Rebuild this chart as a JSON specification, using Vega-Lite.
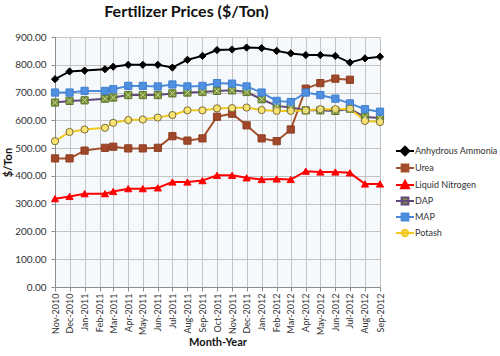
{
  "$schema": "https://vega.github.io/schema/vega-lite/v6.json",
  "width": 325,
  "height": 250,
  "autosize": {"type": "none"},
  "padding": {"left": 55, "top": 37, "right": 120, "bottom": 69},
  "background": "white",
  "config": {
    "font": "Lato",
    "view": {"fill": "#f6f9fc", "stroke": null},
    "axis": {"labelFont": "Lato", "titleFont": "Lato", "labelColor": "#333333", "titleColor": "#111111", "gridColor": "#c4c4c4", "gridWidth": 1, "domainColor": "#8c8c8c", "tickColor": "#8c8c8c", "tickSize": 4},
    "legend": {
      "title": null, "orient": "none", "legendX": 345, "legendY": 109,
      "symbolSize": 64, "symbolStrokeWidth": 2, "labelOffset": 5, "rowPadding": 0,
      "labelFont": "Lato", "labelFontSize": 9, "labelColor": "#333333"
    }
  },
  "title": {"text": "Fertilizer Prices ($/Ton)", "font": "Lato", "fontSize": 16, "fontWeight": "bold", "color": "#111111", "anchor": "middle", "dx": -31, "offset": 12},
  "datasets": {
    "prices": [
      {"date": "2010-11-01", "series": "Anhydrous Ammonia", "value": 748},
      {"date": "2010-12-01", "series": "Anhydrous Ammonia", "value": 776},
      {"date": "2011-01-01", "series": "Anhydrous Ammonia", "value": 779},
      {"date": "2011-02-12", "series": "Anhydrous Ammonia", "value": 784},
      {"date": "2011-03-01", "series": "Anhydrous Ammonia", "value": 793},
      {"date": "2011-04-01", "series": "Anhydrous Ammonia", "value": 800},
      {"date": "2011-05-01", "series": "Anhydrous Ammonia", "value": 800},
      {"date": "2011-06-01", "series": "Anhydrous Ammonia", "value": 800},
      {"date": "2011-07-01", "series": "Anhydrous Ammonia", "value": 790},
      {"date": "2011-08-01", "series": "Anhydrous Ammonia", "value": 818},
      {"date": "2011-09-01", "series": "Anhydrous Ammonia", "value": 832},
      {"date": "2011-10-01", "series": "Anhydrous Ammonia", "value": 853},
      {"date": "2011-11-01", "series": "Anhydrous Ammonia", "value": 855},
      {"date": "2011-12-01", "series": "Anhydrous Ammonia", "value": 862},
      {"date": "2012-01-01", "series": "Anhydrous Ammonia", "value": 860},
      {"date": "2012-02-01", "series": "Anhydrous Ammonia", "value": 850},
      {"date": "2012-03-01", "series": "Anhydrous Ammonia", "value": 841},
      {"date": "2012-04-01", "series": "Anhydrous Ammonia", "value": 835},
      {"date": "2012-05-01", "series": "Anhydrous Ammonia", "value": 835},
      {"date": "2012-06-01", "series": "Anhydrous Ammonia", "value": 832},
      {"date": "2012-07-01", "series": "Anhydrous Ammonia", "value": 808},
      {"date": "2012-08-01", "series": "Anhydrous Ammonia", "value": 823},
      {"date": "2012-09-01", "series": "Anhydrous Ammonia", "value": 829},
      {"date": "2010-11-01", "series": "Urea", "value": 463},
      {"date": "2010-12-01", "series": "Urea", "value": 463},
      {"date": "2011-01-01", "series": "Urea", "value": 491},
      {"date": "2011-02-12", "series": "Urea", "value": 501},
      {"date": "2011-03-01", "series": "Urea", "value": 505},
      {"date": "2011-04-01", "series": "Urea", "value": 499},
      {"date": "2011-05-01", "series": "Urea", "value": 499},
      {"date": "2011-06-01", "series": "Urea", "value": 501},
      {"date": "2011-07-01", "series": "Urea", "value": 543},
      {"date": "2011-08-01", "series": "Urea", "value": 527},
      {"date": "2011-09-01", "series": "Urea", "value": 535},
      {"date": "2011-10-01", "series": "Urea", "value": 613},
      {"date": "2011-11-01", "series": "Urea", "value": 624},
      {"date": "2011-12-01", "series": "Urea", "value": 582},
      {"date": "2012-01-01", "series": "Urea", "value": 535},
      {"date": "2012-02-01", "series": "Urea", "value": 525},
      {"date": "2012-03-01", "series": "Urea", "value": 567},
      {"date": "2012-04-01", "series": "Urea", "value": 714},
      {"date": "2012-05-01", "series": "Urea", "value": 734},
      {"date": "2012-06-01", "series": "Urea", "value": 750},
      {"date": "2012-07-01", "series": "Urea", "value": 746},
      {"date": "2010-11-01", "series": "Liquid Nitrogen", "value": 318},
      {"date": "2010-12-01", "series": "Liquid Nitrogen", "value": 326},
      {"date": "2011-01-01", "series": "Liquid Nitrogen", "value": 336},
      {"date": "2011-02-12", "series": "Liquid Nitrogen", "value": 336},
      {"date": "2011-03-01", "series": "Liquid Nitrogen", "value": 344},
      {"date": "2011-04-01", "series": "Liquid Nitrogen", "value": 354},
      {"date": "2011-05-01", "series": "Liquid Nitrogen", "value": 354},
      {"date": "2011-06-01", "series": "Liquid Nitrogen", "value": 357},
      {"date": "2011-07-01", "series": "Liquid Nitrogen", "value": 378},
      {"date": "2011-08-01", "series": "Liquid Nitrogen", "value": 378},
      {"date": "2011-09-01", "series": "Liquid Nitrogen", "value": 383},
      {"date": "2011-10-01", "series": "Liquid Nitrogen", "value": 402},
      {"date": "2011-11-01", "series": "Liquid Nitrogen", "value": 402},
      {"date": "2011-12-01", "series": "Liquid Nitrogen", "value": 393},
      {"date": "2012-01-01", "series": "Liquid Nitrogen", "value": 387},
      {"date": "2012-02-01", "series": "Liquid Nitrogen", "value": 389},
      {"date": "2012-03-01", "series": "Liquid Nitrogen", "value": 387},
      {"date": "2012-04-01", "series": "Liquid Nitrogen", "value": 417},
      {"date": "2012-05-01", "series": "Liquid Nitrogen", "value": 414},
      {"date": "2012-06-01", "series": "Liquid Nitrogen", "value": 414},
      {"date": "2012-07-01", "series": "Liquid Nitrogen", "value": 411},
      {"date": "2012-08-01", "series": "Liquid Nitrogen", "value": 371},
      {"date": "2012-09-01", "series": "Liquid Nitrogen", "value": 371},
      {"date": "2010-11-01", "series": "DAP", "value": 664},
      {"date": "2010-12-01", "series": "DAP", "value": 670},
      {"date": "2011-01-01", "series": "DAP", "value": 672},
      {"date": "2011-02-12", "series": "DAP", "value": 678},
      {"date": "2011-03-01", "series": "DAP", "value": 682},
      {"date": "2011-04-01", "series": "DAP", "value": 691},
      {"date": "2011-05-01", "series": "DAP", "value": 691},
      {"date": "2011-06-01", "series": "DAP", "value": 691},
      {"date": "2011-07-01", "series": "DAP", "value": 697},
      {"date": "2011-08-01", "series": "DAP", "value": 700},
      {"date": "2011-09-01", "series": "DAP", "value": 702},
      {"date": "2011-10-01", "series": "DAP", "value": 706},
      {"date": "2011-11-01", "series": "DAP", "value": 708},
      {"date": "2011-12-01", "series": "DAP", "value": 702},
      {"date": "2012-01-01", "series": "DAP", "value": 676},
      {"date": "2012-02-01", "series": "DAP", "value": 652},
      {"date": "2012-03-01", "series": "DAP", "value": 646},
      {"date": "2012-04-01", "series": "DAP", "value": 636},
      {"date": "2012-05-01", "series": "DAP", "value": 636},
      {"date": "2012-06-01", "series": "DAP", "value": 634},
      {"date": "2012-07-01", "series": "DAP", "value": 642},
      {"date": "2012-08-01", "series": "DAP", "value": 612},
      {"date": "2012-09-01", "series": "DAP", "value": 608},
      {"date": "2010-11-01", "series": "MAP", "value": 700},
      {"date": "2010-12-01", "series": "MAP", "value": 700},
      {"date": "2011-01-01", "series": "MAP", "value": 706},
      {"date": "2011-02-12", "series": "MAP", "value": 706},
      {"date": "2011-03-01", "series": "MAP", "value": 712},
      {"date": "2011-04-01", "series": "MAP", "value": 724},
      {"date": "2011-05-01", "series": "MAP", "value": 724},
      {"date": "2011-06-01", "series": "MAP", "value": 722},
      {"date": "2011-07-01", "series": "MAP", "value": 729},
      {"date": "2011-08-01", "series": "MAP", "value": 722},
      {"date": "2011-09-01", "series": "MAP", "value": 724},
      {"date": "2011-10-01", "series": "MAP", "value": 734},
      {"date": "2011-11-01", "series": "MAP", "value": 732},
      {"date": "2011-12-01", "series": "MAP", "value": 722},
      {"date": "2012-01-01", "series": "MAP", "value": 700},
      {"date": "2012-02-01", "series": "MAP", "value": 670},
      {"date": "2012-03-01", "series": "MAP", "value": 666},
      {"date": "2012-04-01", "series": "MAP", "value": 700},
      {"date": "2012-05-01", "series": "MAP", "value": 691},
      {"date": "2012-06-01", "series": "MAP", "value": 678},
      {"date": "2012-07-01", "series": "MAP", "value": 661},
      {"date": "2012-08-01", "series": "MAP", "value": 640},
      {"date": "2012-09-01", "series": "MAP", "value": 631},
      {"date": "2010-11-01", "series": "Potash", "value": 525},
      {"date": "2010-12-01", "series": "Potash", "value": 558},
      {"date": "2011-01-01", "series": "Potash", "value": 567},
      {"date": "2011-02-12", "series": "Potash", "value": 573},
      {"date": "2011-03-01", "series": "Potash", "value": 591},
      {"date": "2011-04-01", "series": "Potash", "value": 601},
      {"date": "2011-05-01", "series": "Potash", "value": 603},
      {"date": "2011-06-01", "series": "Potash", "value": 610},
      {"date": "2011-07-01", "series": "Potash", "value": 619},
      {"date": "2011-08-01", "series": "Potash", "value": 636},
      {"date": "2011-09-01", "series": "Potash", "value": 636},
      {"date": "2011-10-01", "series": "Potash", "value": 643},
      {"date": "2011-11-01", "series": "Potash", "value": 644},
      {"date": "2011-12-01", "series": "Potash", "value": 646},
      {"date": "2012-01-01", "series": "Potash", "value": 637},
      {"date": "2012-02-01", "series": "Potash", "value": 634},
      {"date": "2012-03-01", "series": "Potash", "value": 634},
      {"date": "2012-04-01", "series": "Potash", "value": 636},
      {"date": "2012-05-01", "series": "Potash", "value": 640},
      {"date": "2012-06-01", "series": "Potash", "value": 640},
      {"date": "2012-07-01", "series": "Potash", "value": 642},
      {"date": "2012-08-01", "series": "Potash", "value": 598},
      {"date": "2012-09-01", "series": "Potash", "value": 594}
    ]
  },
  "data": {"name": "prices"},
  "encoding": {
    "x": {
      "field": "date", "type": "temporal",
      "scale": {"type": "utc", "domain": [{"year": 2010, "month": 11, "date": 1, "utc": true}, {"year": 2012, "month": 9, "date": 1, "utc": true}]},
      "axis": {"title": "Month-Year", "labelExpr": "utcFormat(datum.value, '%b-%Y')", "tickCount": {"interval": "month", "step": 1}, "labelAngle": -90, "labelFontSize": 9, "labelPadding": 2, "labelFlush": false, "labelOverlap": false, "titleFontSize": 11, "titleFontWeight": "bold", "titlePadding": 2}
    },
    "y": {
      "field": "value", "type": "quantitative",
      "scale": {"domain": [0, 900], "nice": false},
      "axis": {"title": "$/Ton", "format": ".2f", "values": [0, 100, 200, 300, 400, 500, 600, 700, 800, 900], "labelFontSize": 10, "labelPadding": 5, "titleFontSize": 11, "titleFontWeight": "bold", "titlePadding": 1}
    }
  },
  "layer": [
    {
      "mark": {"type": "line", "strokeWidth": 2},
      "encoding": {
        "color": {"field": "series", "type": "nominal",
          "scale": {"domain": ["Anhydrous Ammonia", "Urea", "Liquid Nitrogen", "DAP", "MAP", "Potash"], "range": ["#000000", "#a5512b", "#ff0000", "#62497c", "#4a8ad8", "#f2c81e"]},
          "legend": {
            "encode": {
              "symbols": {
                "update": {
                  "shape": {"signal": "datum.value === 'Anhydrous Ammonia' ? 'M-2.25,0H2.25M0,-1.1L1.1,0L0,1.1L-1.1,0Z' : (datum.value === 'Liquid Nitrogen' ? 'M-2.25,0H2.25M0,-1.05L1,0.8H-1Z' : (datum.value === 'Potash' ? 'M-2.25,0H2.25M-0.8,0A0.8,0.8,0,1,0,0.8,0A0.8,0.8,0,1,0,-0.8,0Z' : 'M-2.25,0H2.25M-0.85,-0.85H0.85V0.85H-0.85Z'))"},
                  "fill": {"signal": "datum.value === 'Anhydrous Ammonia' ? '#000000' : (datum.value === 'Urea' ? '#a0472a' : (datum.value === 'Liquid Nitrogen' ? '#ff0000' : (datum.value === 'DAP' ? '#77903c' : (datum.value === 'MAP' ? '#4f8fe0' : '#f7e272'))))"},
                  "strokeWidth": {"value": 2},
                  "opacity": {"value": 1}
                }
              }
            }
          }
        }
      }
    },
    {
      "mark": {"type": "point", "filled": true, "opacity": 1, "size": 52, "strokeWidth": 1},
      "encoding": {
        "shape": {"field": "series", "type": "nominal", "legend": null,
          "scale": {"domain": ["Potash", "MAP", "DAP", "Liquid Nitrogen", "Urea", "Anhydrous Ammonia"], "range": ["circle", "square", "square", "triangle-up", "square", "diamond"]}},
        "stroke": {"field": "series", "type": "nominal", "legend": null,
          "scale": {"domain": ["Potash", "MAP", "DAP", "Liquid Nitrogen", "Urea", "Anhydrous Ammonia"], "range": ["#7a6e3a", "#3f7fd0", "#5e7530", "#ff0000", "#8e3f22", "#000000"]}},
        "fill": {"field": "series", "type": "nominal", "legend": null,
          "scale": {"domain": ["Potash", "MAP", "DAP", "Liquid Nitrogen", "Urea", "Anhydrous Ammonia"], "range": ["#f7e272", "#4f8fe0", "#77903c", "#ff0000", "#a0472a", "#000000"]}}
      }
    },
    {
      "transform": [{"filter": "datum.series === 'DAP'"}],
      "mark": {"type": "point", "filled": false, "opacity": 1, "size": 30, "strokeWidth": 1, "color": "#c9d68a", "shape": "M-1,-1L1,1M-1,1L1,-1"}
    }
  ]
}
